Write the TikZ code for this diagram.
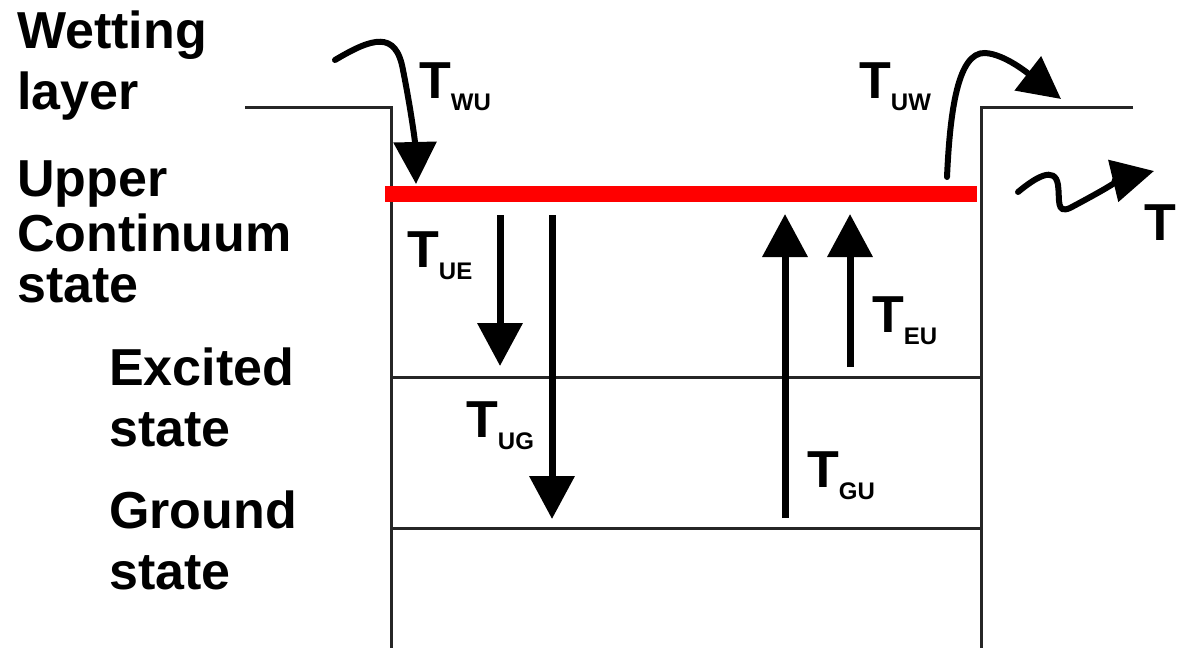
\documentclass[tikz,border=0pt]{standalone}
\usepackage{fontspec}
\setmainfont{Liberation Sans}
\usetikzlibrary{arrows.meta}
\newcommand{\Tlab}[1]{T\raisebox{-12pt}{\fontsize{24}{24}\selectfont #1}}
\begin{document}
\begin{tikzpicture}[x=1pt,y=-1pt,
  lbl/.style={anchor=base west,inner sep=0pt,font=\fontsize{52}{60}\selectfont\bfseries},
  level/.style={line width=3pt,draw=black!85},
  band/.style={line width=16pt,draw=red},
  trans/.style={line width=7pt,-{Triangle[length=43pt,width=44pt]}},
  ctrans/.style={line width=6pt,line cap=round,-{Triangle[length=42pt,width=42pt]}}]
\useasboundingbox[fill=white] (0,0) rectangle (1180,648);
% well profile
\coordinate (wl) at (245,107);
\coordinate (wlc) at (391,107);
\coordinate (wlb) at (391,648);
\coordinate (wr) at (1133,107);
\coordinate (wrc) at (981,107);
\coordinate (wrb) at (981,648);
\draw[level] (wl) -- (wlc) -- (wlb);
\draw[level] (wr) -- (wrc) -- (wrb);
% levels
\coordinate (exl) at (391,377);
\coordinate (exr) at (981,377);
\coordinate (gsl) at (391,528);
\coordinate (gsr) at (981,528);
\draw[level] (exl) -- (exr);
\draw[level] (gsl) -- (gsr);
\coordinate (upl) at (385,194);
\coordinate (upr) at (977,194);
\draw[band] (upl) -- (upr);
% labels left
\node[lbl] (wet1) at (17,48) {Wetting};
\node[lbl] (wet2) at (17,109) {layer};
\node[lbl] (up1) at (17,196) {Upper};
\node[lbl] (up2) at (17,251) {Continuum};
\node[lbl] (up3) at (17,302) {state};
\node[lbl] (ex1) at (109,385) {Excited};
\node[lbl] (ex2) at (109,446) {state};
\node[lbl] (gs1) at (109,528) {Ground};
\node[lbl] (gs2) at (109,589) {state};
% transition labels
\node[lbl] (twu) at (419,98) {\Tlab{WU}};
\node[lbl] (tuw) at (859,98) {\Tlab{UW}};
\node[lbl] (tue) at (407,267) {\Tlab{UE}};
\node[lbl] (tug) at (466,437) {\Tlab{UG}};
\node[lbl] (teu) at (872,332) {\Tlab{EU}};
\node[lbl] (tgu) at (807,487) {\Tlab{GU}};
\node[lbl] (tesc) at (1144,240) {T};
% straight transitions
\coordinate (ue-a) at (500,215); \coordinate (ue-b) at (500,366);
\coordinate (ug-a) at (552,215); \coordinate (ug-b) at (552,519);
\coordinate (gu-a) at (785,518); \coordinate (gu-b) at (785,214);
\coordinate (eu-a) at (850,367); \coordinate (eu-b) at (850,214);
\draw[trans] (ue-a) -- (ue-b);
\draw[trans] (ug-a) -- (ug-b);
\draw[trans] (gu-a) -- (gu-b);
\draw[trans] (eu-a) -- (eu-b);
% curved transitions
\coordinate (wu-a) at (335,60); \coordinate (wu-m) at (403,70); \coordinate (wu-b) at (416,184);
\draw[ctrans] (wu-a) .. controls (372,38) and (396,30) .. (wu-m)
  .. controls (410,105) and (415,140) .. (wu-b);
\coordinate (uw-a) at (947,177); \coordinate (uw-m) at (985,53); \coordinate (uw-b) at (1061,99);
\draw[ctrans] (uw-a) .. controls (950,110) and (958,52) .. (uw-m)
  .. controls (1005,54) and (1030,75) .. (uw-b);
\coordinate (es-a) at (1018,192); \coordinate (es-m) at (1058,185);
\coordinate (es-n) at (1070,208); \coordinate (es-b) at (1154,171);
\draw[ctrans] (es-a) .. controls (1035,178) and (1055,165) .. (es-m)
  .. controls (1060,200) and (1056,214) .. (es-n)
  .. controls (1100,192) and (1125,178) .. (es-b);
\end{tikzpicture}
\end{document}
